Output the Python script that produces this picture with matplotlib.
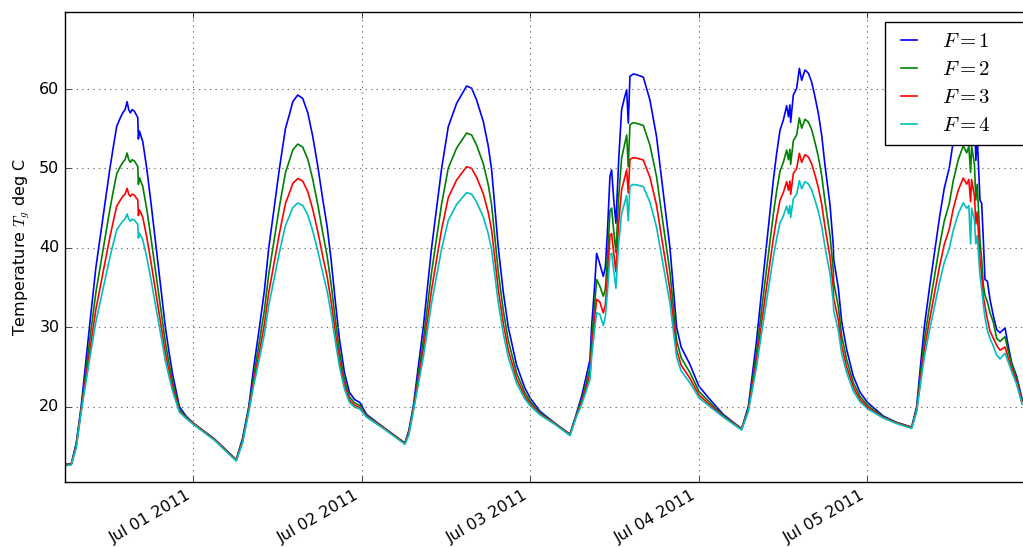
import matplotlib
matplotlib.use('Agg')
import matplotlib.pyplot as plt
import matplotlib.dates as mdates
from datetime import datetime, timedelta

# Hours since 2011-06-30 00:00
HOURS = [
    5.7, 6.6, 7.3, 8.0, 8.7, 9.4, 10.1, 10.5, 11.3, 12.1, 12.6, 13.07, 13.6, 13.93, 14.26, 14.55, 14.78, 15.02,
    15.26, 15.59, 15.83, 16.07, 16.16, 16.3, 16.78, 17.35, 18.0, 18.7, 19.35, 20.0, 20.5, 21.05, 22.0, 22.95,
    24.0, 27.0, 30.1,
    31.0, 31.89, 32.6, 33.41, 34.1, 34.74, 35.5, 36.26, 37.11, 37.68, 38.16, 38.87, 39.58, 40.3, 41.0, 41.72,
    42.43, 43.05, 43.62, 44.24, 44.81, 45.52, 46.23, 46.95, 47.73, 48.68, 51.06, 54.14,
    54.7, 55.33, 56.05, 56.76, 57.35, 57.94, 58.65, 59.37, 60.32, 61.51, 62.93, 63.65, 64.36, 65.31, 66.02,
    66.5, 67.45, 68.16, 68.87, 70.06, 71.25, 72.05, 73.39, 75.52, 77.66,
    78.61, 79.32, 79.9, 80.51, 80.75, 81.2, 81.46, 81.9, 82.41, 82.7, 83.0, 83.36, 83.6, 83.9, 84.21, 84.6,
    85.02, 85.4, 85.74, 85.97, 86.21, 86.7, 87.17, 88.11, 89.06, 90.0, 90.96, 91.91, 92.86, 93.5, 94.76,
    96.04, 97.61, 99.51, 102.12,
    103.07, 103.65, 104.26, 104.85, 105.45, 106.05, 106.64, 107.1, 107.59, 108.07, 108.54, 108.8, 109.0,
    109.11, 109.49, 109.97, 110.35, 110.68, 111.15, 111.63, 112.1, 112.58, 113.06, 113.53, 114.0, 114.72,
    115.19, 115.24, 115.91, 116.38, 117.09, 118.04, 119.0, 120.08, 122.32, 124.22, 126.35,
    127.07, 127.6, 128.15, 128.9, 129.7, 130.35, 131.0, 131.7, 132.3, 133.0, 133.7, 134.2, 134.5, 134.75,
    134.9, 135.3, 135.5, 135.7, 136.09, 136.33, 136.57, 136.8, 137.14, 137.52, 138.0, 138.47, 138.94,
    139.66, 140.13, 140.61, 141.32, 142.08,
]

T_F1 = [
    12.7, 12.8, 15.4, 20.0, 25.9, 31.8, 37.5, 40.0, 45.0, 50.0, 52.8, 55.3, 56.4, 57.0, 57.4, 58.4, 57.4, 57.0,
    57.4, 57.2, 56.8, 56.4, 53.7, 54.7, 53.4, 50.0, 45.3, 40.0, 35.0, 30.0, 27.0, 24.0, 20.0, 18.8,
    17.9, 15.9, 13.3,
    16.0, 20.0, 25.0, 30.0, 34.5, 40.0, 45.0, 50.0, 55.0, 56.8, 58.4, 59.25, 58.8, 57.0, 54.05, 50.3,
    46.1, 42.7, 38.5, 33.1, 28.5, 24.3, 21.8, 20.9, 20.5, 19.0, 17.4, 15.4,
    17.0, 20.0, 25.0, 30.0, 35.0, 40.0, 45.0, 50.0, 55.26, 58.2, 60.38, 60.1, 58.6, 55.9, 52.8,
    49.8, 40.0, 34.4, 30.0, 25.2, 22.3, 21.0, 19.4, 17.9, 16.5,
    19.2, 21.3, 23.5, 25.9, 30.1, 35.5, 39.3, 38.0, 36.4, 37.5, 42.0, 49.0, 49.8, 46.0, 43.1, 51.0,
    57.4, 58.8, 59.9, 55.7, 61.6, 61.9, 61.8, 61.5, 58.6, 54.0, 46.9, 40.0, 30.0, 27.5, 25.3,
    22.55, 20.9, 19.0, 17.2,
    20.0, 24.0, 28.4, 33.5, 38.5, 43.5, 48.5, 51.8, 54.8, 56.1, 57.9, 56.5, 58.0,
    55.8, 59.25, 60.1, 62.6, 61.1, 62.4, 62.0, 60.9, 59.0, 56.9, 54.2, 50.4, 45.4,
    40.2, 38.6, 34.9, 30.7, 27.2, 23.8, 21.8, 20.5, 18.8, 18.0, 17.4,
    20.0, 25.0, 30.0, 35.0, 40.0, 44.0, 47.5, 50.0, 53.5, 56.5, 58.5, 57.5, 59.0, 54.0,
    58.5, 57.0, 51.0, 54.0, 46.0, 45.6, 41.0, 36.0, 35.8, 33.5, 31.4, 29.7, 29.3,
    29.9, 27.6, 25.5, 23.8, 21.0,
]

T_F2 = [
    12.7, 12.8, 15.2, 19.68, 24.64, 29.59, 34.38, 36.48, 40.68, 44.88, 47.23, 49.33, 50.26, 50.76, 51.1, 51.94, 51.1, 50.76,
    51.1, 50.93, 50.59, 50.26, 47.99, 48.83, 47.74, 44.88, 40.93, 36.48, 32.28, 28.08, 25.56, 23.04, 19.68, 18.67,
    17.9, 15.9, 13.3,
    15.8, 19.7, 23.95, 28.2, 32.03, 36.7, 40.95, 45.2, 49.45, 50.98, 52.34, 53.06, 52.68, 51.15, 48.64, 45.46,
    41.89, 39.0, 35.43, 30.84, 26.93, 23.36, 21.23, 20.47, 20.13, 18.85, 17.4, 15.4,
    16.8, 19.72, 24.02, 28.32, 32.62, 36.92, 41.22, 45.52, 50.04, 52.57, 54.45, 54.21, 52.92, 50.59, 47.93,
    45.35, 36.92, 32.1, 28.32, 24.19, 21.7, 20.58, 19.2, 17.9, 16.5,
    19.03, 20.84, 22.73, 24.79, 28.41, 33.05, 36.0, 35.2, 33.9, 34.77, 38.64, 44.66, 45.0, 42.08, 39.4, 46.38,
    51.3, 52.8, 54.2, 50.2, 55.5, 55.75, 55.67, 55.41, 52.92, 48.96, 42.85, 36.92, 28.32, 26.17, 24.28,
    21.91, 20.49, 18.86, 17.2,
    19.72, 23.16, 26.94, 31.33, 35.63, 39.93, 44.23, 47.07, 49.65, 50.77, 52.31, 51.11, 52.4,
    50.51, 53.48, 54.21, 56.36, 55.07, 56.18, 55.84, 54.89, 53.26, 51.45, 49.13, 45.86, 41.56,
    37.09, 35.72, 32.53, 28.92, 25.91, 22.99, 21.27, 20.15, 18.69, 18.0, 17.4,
    19.72, 24.02, 28.32, 32.62, 36.92, 40.36, 43.37, 45.52, 48.53, 51.11, 52.83, 51.97, 52.8, 49.5,
    52.8, 50.5, 46.0, 48.0, 41.0, 38.5, 35.3, 34.0, 33.2, 31.8, 30.6, 28.6, 28.2,
    28.8, 26.9, 25.4, 23.5, 20.8,
]

T_F3 = [
    12.65, 12.75, 15.0, 19.46, 23.77, 28.07, 32.24, 34.06, 37.71, 41.36, 43.4, 45.23, 46.03, 46.47, 46.76, 47.49, 46.76, 46.47,
    46.76, 46.62, 46.32, 46.03, 44.06, 44.79, 43.84, 41.36, 37.93, 34.06, 30.41, 26.76, 24.57, 22.38, 19.46, 18.58,
    17.85, 15.85, 13.25,
    15.6, 19.49, 23.22, 26.94, 30.29, 34.39, 38.12, 41.84, 45.57, 46.91, 48.1, 48.73, 48.4, 47.06, 44.86, 42.06,
    38.93, 36.4, 33.27, 29.25, 25.82, 22.69, 20.83, 20.16, 19.86, 18.75, 17.35, 15.35,
    16.6, 19.52, 23.32, 27.12, 30.92, 34.72, 38.52, 42.32, 46.32, 48.55, 50.21, 50.0, 48.86, 46.8, 44.45,
    42.17, 34.72, 30.46, 27.12, 23.47, 21.27, 20.28, 19.06, 17.85, 16.45,
    18.91, 20.51, 22.18, 24.0, 27.2, 31.3, 33.5, 33.2, 31.8, 32.82, 36.24, 41.56, 41.8, 39.28, 37.0, 43.08,
    47.3, 48.6, 49.8, 46.9, 51.14, 51.36, 51.29, 51.06, 48.86, 45.36, 39.96, 34.72, 27.12, 25.22, 23.55,
    21.46, 20.2, 18.76, 17.15,
    19.52, 22.56, 25.9, 29.78, 33.58, 37.38, 41.18, 43.69, 45.97, 46.96, 48.32, 47.26, 48.4,
    46.73, 49.35, 50.0, 51.9, 50.76, 51.74, 51.44, 50.6, 49.16, 47.56, 45.51, 42.62, 38.82,
    34.87, 33.66, 30.84, 27.65, 24.99, 22.41, 20.89, 19.9, 18.61, 17.95, 17.35,
    19.52, 23.32, 27.12, 30.92, 34.72, 37.76, 40.42, 42.32, 44.98, 47.26, 48.78, 48.02, 48.6, 45.8,
    48.6, 46.5, 43.0, 44.5, 38.5, 36.5, 33.8, 32.7, 31.0, 29.5, 28.6, 27.7, 27.1,
    27.5, 26.1, 24.8, 23.1, 20.6,
]

T_F4 = [
    12.55, 12.65, 14.8, 19.3, 23.14, 26.97, 30.68, 32.3, 35.55, 38.8, 40.62, 42.25, 42.96, 43.35, 43.61, 44.26, 43.61, 43.35,
    43.61, 43.48, 43.22, 42.96, 41.21, 41.86, 41.01, 38.8, 35.75, 32.3, 29.05, 25.8, 23.85, 21.9, 19.3, 18.52,
    17.75, 15.75, 13.15,
    15.4, 19.34, 22.69, 26.04, 29.06, 32.74, 36.09, 39.44, 42.79, 44.0, 45.07, 45.64, 45.34, 44.13, 42.15, 39.64,
    36.83, 34.55, 31.74, 28.12, 25.04, 22.22, 20.55, 19.94, 19.68, 18.67, 17.25, 15.25,
    16.4, 19.37, 22.78, 26.2, 29.61, 33.03, 36.44, 39.86, 43.45, 45.46, 46.95, 46.75, 45.73, 43.89, 41.77,
    39.72, 33.03, 29.2, 26.2, 22.92, 20.94, 20.05, 18.96, 17.75, 16.35,
    18.82, 20.25, 21.76, 23.4, 26.26, 29.95, 31.8, 31.66, 30.2, 31.32, 34.39, 39.17, 39.3, 37.12, 34.9, 40.54,
    44.3, 45.5, 46.6, 43.4, 47.78, 47.98, 47.92, 47.71, 45.73, 42.59, 37.74, 33.03, 26.2, 24.49, 22.99,
    21.11, 19.98, 18.68, 17.05,
    19.37, 22.1, 25.1, 28.59, 32.0, 35.42, 38.83, 41.09, 43.13, 44.02, 45.25, 44.3, 45.32,
    43.82, 46.17, 46.75, 48.46, 47.44, 48.33, 48.05, 47.3, 46.0, 44.57, 42.72, 40.13, 36.71,
    33.16, 32.07, 29.54, 26.67, 24.28, 21.96, 20.6, 19.71, 18.55, 17.85, 17.25,
    19.37, 22.78, 26.2, 29.61, 33.03, 35.76, 38.15, 39.86, 42.25, 44.3, 45.66, 44.98, 45.3, 40.5,
    45.0, 43.5, 40.5, 41.5, 36.5, 34.8, 32.8, 31.2, 29.6, 28.6, 27.6, 26.5, 26.0,
    26.7, 25.6, 24.4, 22.8, 20.3,
]

SERIES = [("$F=1$", T_F1, "b"), ("$F=2$", T_F2, "g"), ("$F=3$", T_F3, "r"), ("$F=4$", T_F4, "c")]
START = datetime(2011, 6, 30)
X_END_HOURS = 143.93
Y_LIM = (10.5, 69.7)
Y_TICKS = [20, 30, 40, 50, 60]

plt.style.use('classic')
fig = plt.figure(figsize=(10.23, 5.47), dpi=100, facecolor='white')
W, H = 1023.0, 547.0
ax = fig.add_axes([65 / W, 1 - 482 / H, (1035 - 65) / W, (482 - 12) / H])

times = [START + timedelta(hours=h) for h in HOURS]
for label, vals, col in SERIES:
    ax.plot(times, vals, color=col, lw=1.2, label=label)

ax.set_xlim(times[0], START + timedelta(hours=X_END_HOURS))
ax.set_ylim(*Y_LIM)
ax.xaxis.set_major_locator(mdates.DayLocator())
ax.xaxis.set_major_formatter(mdates.DateFormatter('%b %d %Y'))
ax.set_yticks(Y_TICKS)
ax.tick_params(axis='y', labelsize=11.5)
ax.tick_params(axis='x', labelsize=11.5)
for lbl in ax.get_xticklabels():
    lbl.set_rotation(30)
    lbl.set_ha('right')
ax.grid(True, color='0.45', linestyle=':', linewidth=0.8)
ax.set_ylabel('Temperature $T_g$ deg C', fontsize=11.5)

leg = ax.legend(loc='upper left', mode='expand',
                bbox_to_anchor=(885 / W, 1 - 145 / H, (1045 - 885) / W, 123 / H),
                bbox_transform=fig.transFigure, borderaxespad=0,
                fontsize=15, handlelength=1.4, handletextpad=0.9,
                borderpad=0.45, labelspacing=0.38)
leg.get_frame().set_linewidth(1.0)

fig.savefig('out.png', dpi=100, facecolor='white')
